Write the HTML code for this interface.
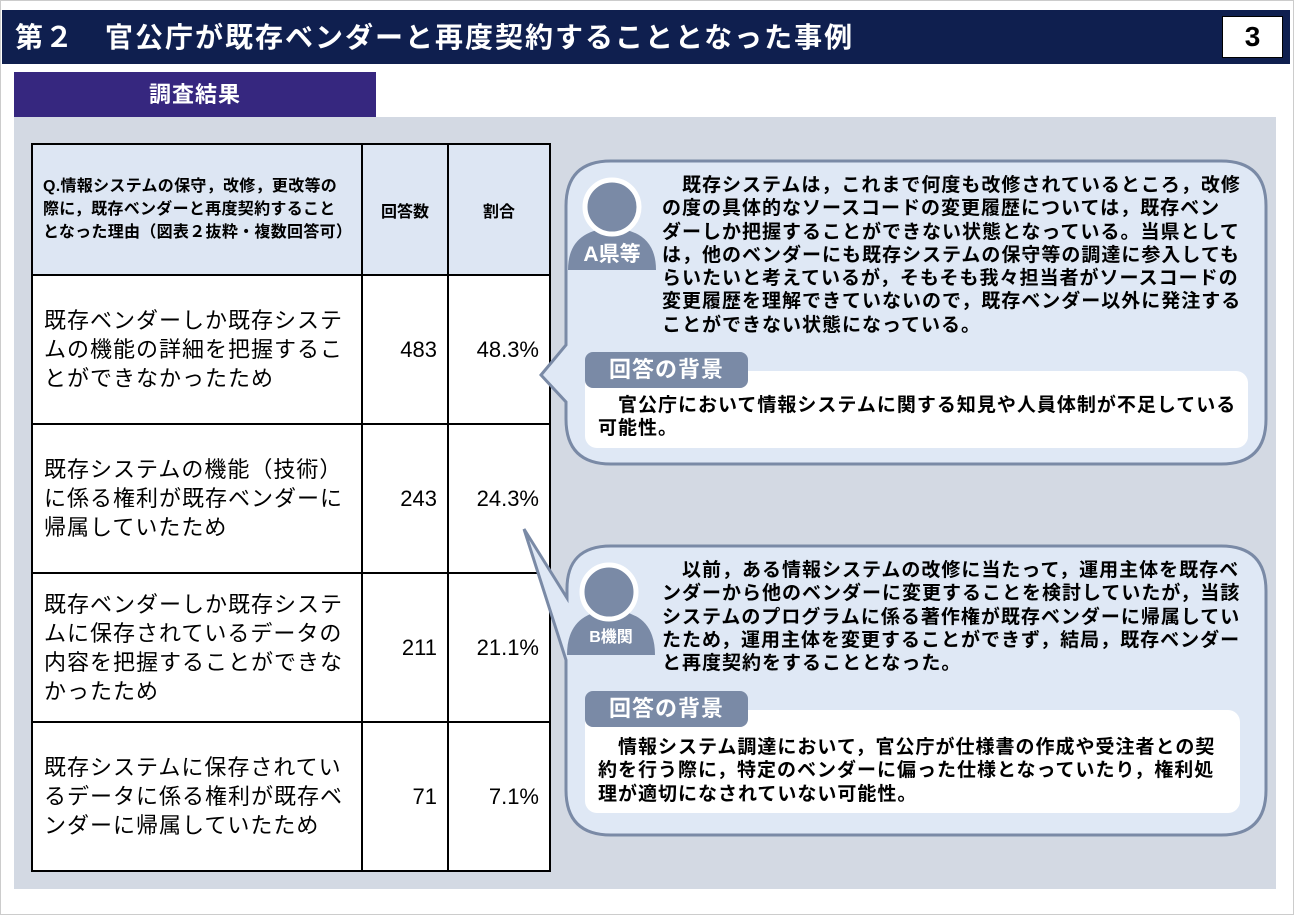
<!DOCTYPE html>
<html lang="ja"><head><meta charset="utf-8">
<style>
*{margin:0;padding:0;box-sizing:border-box}
body{width:1294px;height:915px;background:#fff;position:relative;overflow:hidden;font-family:"Liberation Sans","Noto Sans CJK JP",sans-serif;color:#000}
.abs{position:absolute}
#frame{left:0;top:0;width:1294px;height:915px;border:1px solid #ccc}
#hdr{left:2px;top:10px;width:1288px;height:54px;background:#0f1f4f}
#title{left:15px;top:12px;color:#fff;font-weight:bold;font-size:28px;letter-spacing:2px;white-space:nowrap;line-height:52px}
#num{left:1222px;top:16px;width:61px;height:42px;background:#fff;border:1px solid #000;font-weight:bold;font-size:28px;text-align:center;line-height:40px}
#sub{left:14px;top:72px;width:362px;height:45px;background:#36277f;color:#fff;font-weight:bold;font-size:22px;text-align:center;line-height:45px;padding-right:0;letter-spacing:1px}
#panel{left:14px;top:117px;width:1262px;height:772px;background:#d3d9e3}
table{position:absolute;left:31px;top:143px;border-collapse:collapse;background:#fff}
td{border:2px solid #000;vertical-align:middle}
thead td{background:#dde6f3;font-weight:bold;font-size:16px;height:131px}
.q{width:330px;padding:0 10px;line-height:23px;letter-spacing:0.3px}
.c2{width:86px;text-align:center}
.c3{width:102px;text-align:center}
tbody td{height:149px;font-size:22px}
.lab{padding:0 8px 0 11px;line-height:29px;letter-spacing:1px}
.n{text-align:right;padding-right:10px;font-family:"Liberation Sans",sans-serif}
.bt{font-weight:bold;font-size:19px;letter-spacing:1px;line-height:23.3px;white-space:nowrap}
.tag{background:#7a8aa6;color:#fff;font-weight:bold;font-size:22px;border-radius:8px;text-align:center;line-height:36px;letter-spacing:1px}
.wb{background:#fff;border-radius:12px}
.av{color:#fff;font-weight:bold;text-align:center}
</style></head><body>
<div class="abs" id="frame"></div>
<div class="abs" id="hdr"></div>
<div class="abs" id="title">第２　官公庁が既存ベンダーと再度契約することとなった事例</div>
<div class="abs" id="num">3</div>
<div class="abs" id="sub">調査結果</div>
<div class="abs" id="panel"></div>

<table>
<thead><tr>
<td class="q">Q.情報システムの保守，改修，更改等の際に，既存ベンダーと再度契約することとなった理由（図表２抜粋・複数回答可）</td>
<td class="c2">回答数</td>
<td class="c3">割合</td>
</tr></thead>
<tbody id="tb"></tbody>
</table>

<svg class="abs" style="left:0;top:0" width="1294" height="915">
<path d="M611,161 H1221 Q1266,161 1266,206 V419 Q1266,464 1221,464 H611 Q566,464 566,419 V402 L541,375 L566,345 V206 Q566,161 611,161 Z" fill="#dfe8f5" stroke="#7a8aa6" stroke-width="3"/>
<path d="M611,546 H1221 Q1266,546 1266,591 V790 Q1266,835 1221,835 H611 Q566,835 566,790 V660 L524,529 L567,598 V591 Q566,546 611,546 Z" fill="#dfe8f5" stroke="#7a8aa6" stroke-width="3"/>
<path d="M568,270 Q568,230 612,228 Q656,230 656,270 Z" fill="#7a8aa6"/>
<circle cx="612" cy="207" r="27" fill="#7a8aa6" stroke="#fff" stroke-width="5"/>
<path d="M567,655 Q567,612 611,610 Q655,612 655,655 Z" fill="#7a8aa6"/>
<circle cx="609" cy="592" r="27" fill="#7a8aa6" stroke="#fff" stroke-width="5"/>
</svg>
<div class="abs av" style="left:566px;top:240px;width:92px;font-size:21px;line-height:30px">A県等</div>
<div class="abs av" style="left:566px;top:626px;width:90px;font-size:16px;line-height:24px">B機関</div>

<div class="abs bt" style="left:662px;top:174px">　既存システムは，これまで何度も改修されているところ，改修<br>の度の具体的なソースコードの変更履歴については，既存ベン<br>ダーしか把握することができない状態となっている。当県として<br>は，他のベンダーにも既存システムの保守等の調達に参入しても<br>らいたいと考えているが，そもそも我々担当者がソースコードの<br>変更履歴を理解できていないので，既存ベンダー以外に発注する<br>ことができない状態になっている。</div>
<div class="abs wb" style="left:585px;top:371px;width:663px;height:77px"></div>
<div class="abs tag" style="left:585px;top:352px;width:163px">回答の背景</div>
<div class="abs bt" style="left:598px;top:394px">　官公庁において情報システムに関する知見や人員体制が不足している<br>可能性。</div>

<div class="abs bt" style="left:662px;top:559px">　以前，ある情報システムの改修に当たって，運用主体を既存ベ<br>ンダーから他のベンダーに変更することを検討していたが，当該<br>システムのプログラムに係る著作権が既存ベンダーに帰属してい<br>たため，運用主体を変更することができず，結局，既存ベンダー<br>と再度契約をすることとなった。</div>
<div class="abs wb" style="left:585px;top:710px;width:655px;height:103px"></div>
<div class="abs tag" style="left:585px;top:691px;width:163px">回答の背景</div>
<div class="abs bt" style="left:598px;top:736px">　情報システム調達において，官公庁が仕様書の作成や受注者との契<br>約を行う際に，特定のベンダーに偏った仕様となっていたり，権利処<br>理が適切になされていない可能性。</div>

<script>
const reasons = ["既存ベンダーしか既存システムの機能の詳細を把握することができなかったため","既存システムの機能（技術）に係る権利が既存ベンダーに帰属していたため","既存ベンダーしか既存システムに保存されているデータの内容を把握することができなかったため","既存システムに保存されているデータに係る権利が既存ベンダーに帰属していたため"];
const counts = [483,243,211,71];
const ratios = ["48.3%","24.3%","21.1%","7.1%"];
const tb = document.getElementById('tb');
for (let i = 0; i < reasons.length; i++) {
  const tr = document.createElement('tr');
  
  
  const a = document.createElement('td');
  a.className = 'lab';
  a.textContent = reasons[i];
  
  
  const b = document.createElement('td');
  b.className = 'n';
  b.textContent = counts[i];
  
  
  const c = document.createElement('td');
  c.className = 'n';
  c.textContent = ratios[i];
  
  
  tr.appendChild(a); tr.appendChild(b); tr.appendChild(c);
  tb.appendChild(tr);
}
</script>
</body></html>
